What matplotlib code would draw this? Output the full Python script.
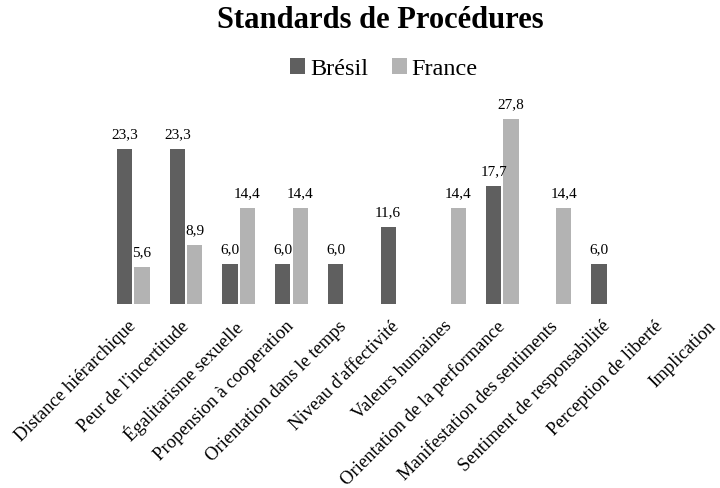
import numpy as np
import matplotlib
matplotlib.use("Agg")
import matplotlib.pyplot as plt
from matplotlib.transforms import ScaledTranslation

categories = ["Distance hiérarchique", "Peur de l'incertitude", "Égalitarisme sexuelle",
              "Propension à cooperation", "Orientation dans le temps", "Niveau d'affectivité",
              "Valeurs humaines", "Orientation de la performance", "Manifestation des sentiments",
              "Sentiment de responsabilité", "Perception de liberté", "Implication"]
bresil = [23.3, 23.3, 6.0, 6.0, 6.0, 11.6, 0, 17.7, 0, 6.0, 0, 0]
france = [5.6, 8.9, 14.4, 14.4, 0, 0, 14.4, 27.8, 14.4, 0, 0, 0]

plt.rcParams['font.family'] = ['Liberation Serif', 'DejaVu Serif']

fig = plt.figure(figsize=(7.2, 4.88), dpi=100)
W, H = 720, 488
ax = fig.add_axes([107 / W, (H - 304) / H, (739.5 - 107) / W, 200 / H])

x = np.arange(len(categories))
w = 0.29
off = 0.165
ax.bar(x - off, bresil, w, color='#5f5f5f', label='Brésil')
ax.bar(x + off, france, w, color='#b3b3b3', label='France')

# etiquettes des valeurs (virgule décimale)
for xi, v in zip(x, bresil):
    if v > 0:
        ax.text(xi - off, v + 1.1, f"{v:.1f}".replace('.', ','), ha='center', va='bottom', fontsize=11)
for xi, v in zip(x, france):
    if v > 0:
        ax.text(xi + off, v + 1.1, f"{v:.1f}".replace('.', ','), ha='center', va='bottom', fontsize=11)

ax.set_xlim(-0.5, len(categories) - 0.5)
ax.set_ylim(0, 30)
ax.set_yticks([])
ax.set_xticks(x)
ax.set_xticklabels(categories, rotation=45, ha='right', rotation_mode='anchor', fontsize=13.4)
ax.tick_params(axis='x', length=0, pad=10)
shift = ScaledTranslation(-6 / 100, 0, fig.dpi_scale_trans)
for lab in ax.get_xticklabels():
    lab.set_transform(lab.get_transform() + shift)
for s in ax.spines.values():
    s.set_visible(False)

fig.text(380 / W, 1 - 21 / H, "Standards de Procédures", ha='center', va='center',
         fontsize=22, fontweight='bold')
fig.legend(loc='center', bbox_to_anchor=(384 / W, 1 - 69 / H), ncol=2, frameon=False,
           fontsize=17.5, handlelength=0.6, handleheight=0.6, handletextpad=0.2, columnspacing=1.0)

fig.savefig("out.png", dpi=100)
